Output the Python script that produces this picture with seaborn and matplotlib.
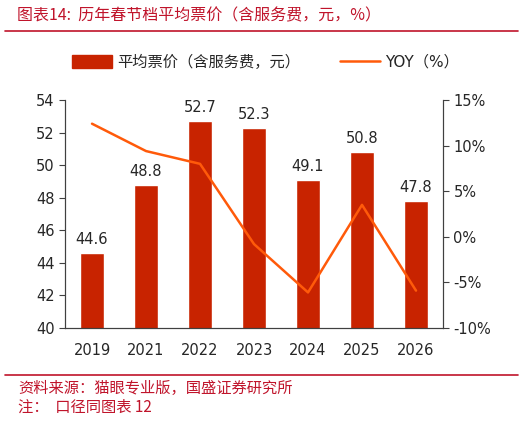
import pandas as pd
import matplotlib
matplotlib.use("Agg")
import matplotlib.pyplot as plt
import matplotlib.ticker as mticker
from matplotlib.lines import Line2D
from matplotlib.patches import Patch
import seaborn as sns

sns.set_style("white")
plt.rcParams['font.family'] = ['DejaVu Sans', 'Noto Sans CJK SC']

# dados
anos = ['2019', '2021', '2022', '2023', '2024', '2025', '2026']
preco = [44.6, 48.8, 52.7, 52.3, 49.1, 50.8, 47.8]
yoy = [12.4, 9.4, 8.0, -0.8, -6.1, 3.5, -5.9]

cor_barra = '#C82300'
cor_linha = '#FF5A0A'
cor_vermelho = '#C0142B'

df = pd.DataFrame({'ano': anos, 'preco': preco, 'yoy': yoy})

fig = plt.figure(figsize=(5.26, 4.21), dpi=100)
ax = fig.add_axes([0.1236, 0.2209, 0.7186, 0.5416])

sns.barplot(data=df, x='ano', y='preco', color=cor_barra, width=0.43,
            saturation=1, ax=ax)
for i, v in enumerate(preco):
    ax.text(i, v + 0.35, f'{v:.1f}', ha='center', va='bottom', fontsize=10.5)

ax.set_ylim(40, 54)
ax.set_yticks(range(40, 55, 2))
ax.set_xlim(-0.5, 6.5)
ax.set_xlabel('')
ax.set_ylabel('')
ax.xaxis.set_minor_locator(mticker.FixedLocator([i - 0.5 for i in range(8)]))
ax.tick_params(axis='x', which='major', length=0, labelsize=10.5, pad=11)
ax.tick_params(axis='x', which='minor', length=4, color='#404040', direction='out')
ax.tick_params(axis='y', length=4, color='#404040', direction='out', labelsize=10.5, left=True)

ax2 = ax.twinx()
sns.lineplot(data=df, x='ano', y='yoy', color=cor_linha, linewidth=1.8, ax=ax2,
             sort=False)
ax2.set_ylim(-10, 15)
ax2.set_yticks(range(-10, 16, 5))
ax2.yaxis.set_major_formatter(mticker.FuncFormatter(lambda v, p: f'{v:.0f}%'))
ax2.set_ylabel('')
ax2.tick_params(axis='y', length=4, color='#404040', direction='out', labelsize=10.5, right=True)

for a in (ax, ax2):
    a.spines['top'].set_visible(False)
    a.spines['left'].set_color('#404040')
    a.spines['right'].set_color('#404040')
    a.spines['bottom'].set_color('#404040')
    a.grid(False)

# legenda
handles = [Patch(color=cor_barra), Line2D([0], [0], color=cor_linha, linewidth=1.8)]
fig.legend(handles, ['平均票价（含服务费，元）', 'YOY（%）'], loc='center',
           bbox_to_anchor=(0.505, 0.852), ncol=2, frameon=False,
           prop={'family': ['DejaVu Sans', 'Noto Sans CJK SC'], 'size': 11},
           handlelength=2.6, handleheight=0.9, columnspacing=2.6, handletextpad=0.35)

# título e rodapé
fig.text(0.032, 0.963, '图表14:  历年春节档平均票价（含服务费，元，%）', color=cor_vermelho,
         fontsize=11.5, ha='left', va='center', family=['Noto Sans CJK SC'])
fig.add_artist(Line2D([0.01, 0.985], [0.926, 0.926], color=cor_vermelho, linewidth=1.2))
fig.add_artist(Line2D([0.01, 0.985], [0.109, 0.109], color=cor_vermelho, linewidth=1.2))
fig.text(0.035, 0.078, '资料来源：猫眼专业版，国盛证券研究所', color=cor_vermelho,
         fontsize=11, ha='left', va='center', family=['Noto Sans CJK SC'])
fig.text(0.035, 0.033, '注：  口径同图表 12', color=cor_vermelho,
         fontsize=11, ha='left', va='center', family=['Noto Sans CJK SC'])

fig.savefig('out.png', dpi=100)
